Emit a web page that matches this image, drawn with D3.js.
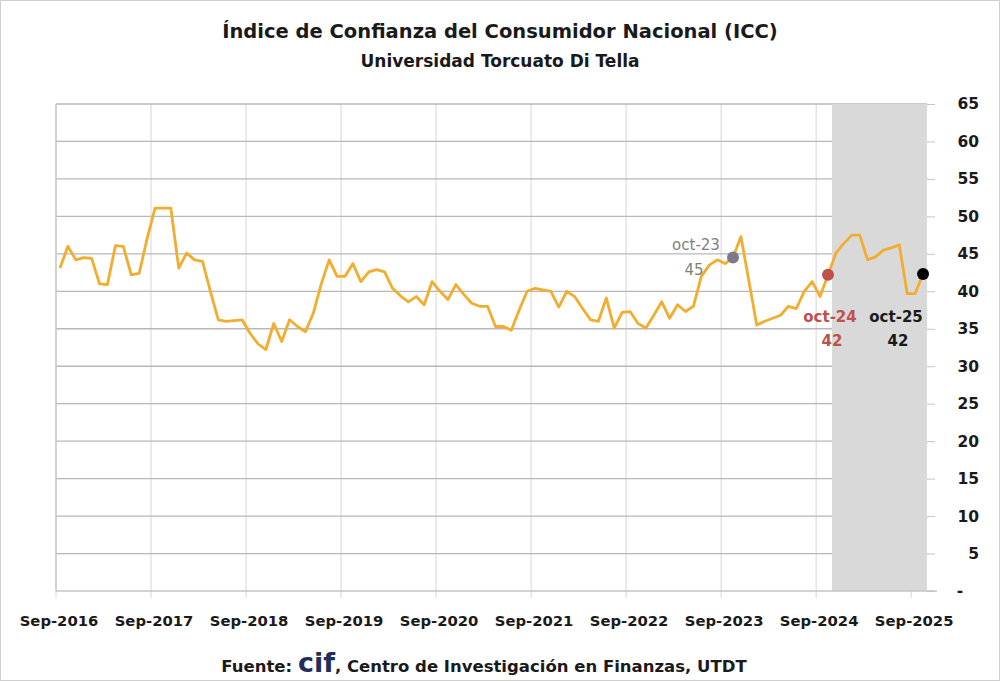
<!DOCTYPE html>
<html><head><meta charset="utf-8">
<script src="https://cdn.jsdelivr.net/npm/d3@7"></script>
<style>
html,body{margin:0;padding:0;background:#fff;}
svg{display:block;}
text{font-family:"DejaVu Sans",sans-serif;}
</style></head>
<body><svg id="chart" width="1000" height="681"></svg>
<script>
// ---- data ----
const startMonth = "2016-09";
const values = [
43.1,46.0,44.2,44.5,44.4,41.0,40.9,46.1,46.0,42.2,42.4,47.0,
51.1,51.1,51.1,43.1,45.1,44.2,44.0,40.0,36.2,36.0,36.1,36.2,
34.4,33.0,32.2,35.7,33.3,36.2,35.3,34.6,37.1,41.0,44.2,42.0,
42.0,43.7,41.3,42.6,42.9,42.6,40.4,39.4,38.6,39.3,38.2,41.3,
40.0,38.9,40.9,39.6,38.4,38.0,38.0,35.3,35.3,34.8,37.5,40.0,
40.4,40.2,40.0,37.9,40.0,39.3,37.7,36.2,36.0,39.1,35.1,37.2,
37.3,35.7,35.1,36.8,38.6,36.4,38.2,37.3,38.0,42.0,43.5,44.2,
43.7,44.5,47.3,41.4,35.5,36.0,36.4,36.8,38.0,37.7,40.0,41.3,
39.3,42.2,45.1,46.4,47.5,47.5,44.2,44.6,45.5,45.8,46.2,39.7,
39.7,42.3];
const xTickLabels = ["Sep-2016","Sep-2017","Sep-2018","Sep-2019","Sep-2020","Sep-2021","Sep-2022","Sep-2023","Sep-2024","Sep-2025"];
const xTickIndex = [0,12,24,36,48,60,72,84,96,108];
const yTicks = [0,5,10,15,20,25,30,35,40,45,50,55,60,65];
const shadeStartIndex = 98;   // Nov-2024 onward
const markers = [
  {idx:85, label:"oct-23", text:"45", color:"#7f7f7f", dot:"#7b7b8c", bold:false},
  {idx:97, label:"oct-24", text:"42", color:"#c0504d", dot:"#c0504d", bold:true},
  {idx:109, label:"oct-25", text:"42", color:"#1a1a1a", dot:"#000000", bold:true}
];
const title = "Índice de Confianza del Consumidor Nacional (ICC)";
const subtitle = "Universidad Torcuato Di Tella";

// ---- layout ----
const svg = d3.select("#chart");
const L = 56, R = 927, T = 104, B = 591;
const x = d3.scaleLinear().domain([0, 110]).range([L, R]);
const y = d3.scaleLinear().domain([0, 65]).range([B, T]);
const px = i => x(i + 0.5);  // monthly points at mid-month

svg.append("rect").attr("x",0.5).attr("y",0.5).attr("width",999).attr("height",680)
  .attr("fill","#fff").attr("stroke","#cfcfcf");

// vertical gridlines
svg.append("g").selectAll("line").data(xTickIndex).join("line")
  .attr("x1",d=>x(d)).attr("x2",d=>x(d)).attr("y1",T).attr("y2",B+7)
  .attr("stroke","#d6d6d6").attr("stroke-width",1);

// horizontal gridlines
svg.append("g").selectAll("line").data(yTicks.filter(d=>d>0)).join("line")
  .attr("x1",L).attr("x2",R).attr("y1",d=>y(d)).attr("y2",d=>y(d))
  .attr("stroke","#b8b8b8").attr("stroke-width",1.3);

// shaded period
svg.append("rect").attr("x",x(shadeStartIndex)).attr("y",T)
  .attr("width",x(110)-x(shadeStartIndex)).attr("height",B-T)
  .attr("fill","#d9d9d9");

// axes lines
svg.append("line").attr("x1",L).attr("x2",L).attr("y1",T).attr("y2",B).attr("stroke","#c4c4c4").attr("stroke-width",1.3);
svg.append("line").attr("x1",L).attr("x2",R+10).attr("y1",B).attr("y2",B).attr("stroke","#c4c4c4").attr("stroke-width",1.5);

// right axis ticks + labels
const yAxis = d3.axisRight(y).tickValues(yTicks).tickSize(8).tickFormat(d=> d===0 ? "-" : d);
const ya = svg.append("g").attr("transform",`translate(${R},0)`).call(yAxis);
ya.select(".domain").remove();
ya.selectAll(".tick line").attr("stroke","#c4c4c4");
ya.selectAll(".tick text").attr("x",52).attr("text-anchor","end")
  .style("font-family","DejaVu Sans").style("font-weight","bold").style("font-size","15.5px").attr("fill","#1a1a1a");
ya.selectAll(".tick text").filter(d=>d===0).attr("x",33).attr("text-anchor","middle");

// x labels
svg.append("g").selectAll("text").data(xTickIndex).join("text")
  .attr("x",d=>x(d)+3).attr("y",626).attr("text-anchor","middle")
  .style("font-weight","bold").style("font-size","14.8px").attr("fill","#1a1a1a")
  .text((d,i)=>xTickLabels[i]);

// line
const line = d3.line().x((d,i)=>px(i)).y(d=>y(d));
svg.append("path").datum(values).attr("d",line).attr("fill","none")
  .attr("stroke","#f2ad2e").attr("stroke-width",2.8).attr("stroke-linejoin","round");

// markers
const mg = svg.append("g");
markers.forEach((m,k)=>{
  const cx = px(m.idx), cy = y(values[m.idx]);
  mg.append("circle").attr("cx",cx).attr("cy",cy).attr("r",6).attr("fill",m.dot);
  let lx, ly, tx, ty;
  if(k===0){ lx = cx-37; ly = cy-8; tx = cx-39; ty = cy+17; }
  else { lx = cx+ (k===1? 2 : -27); ly = 322; tx = lx+2; ty = 346; }
  mg.append("text").attr("x",lx).attr("y",ly).attr("text-anchor","middle")
    .style("font-size","15px").style("font-weight",m.bold?"bold":"normal").attr("fill",m.color).text(m.label);
  mg.append("text").attr("x",tx).attr("y",ty).attr("text-anchor","middle")
    .style("font-size","15px").style("font-weight",m.bold?"bold":"normal").attr("fill",m.color).text(m.text);
});

// titles
svg.append("text").attr("x",500).attr("y",38).attr("text-anchor","middle")
  .style("font-weight","bold").style("font-size","19.5px").attr("fill","#1a1a1a").text(title);
svg.append("text").attr("x",500).attr("y",67).attr("text-anchor","middle")
  .style("font-weight","bold").style("font-size","17px").attr("fill","#1a1a1a").text(subtitle);

// footer
const f = svg.append("text").attr("x",484).attr("y",672).attr("text-anchor","middle")
  .style("font-weight","bold").style("font-size","16.5px").attr("fill","#1a1a1a");
f.append("tspan").text("Fuente: ");
f.append("tspan").style("font-size","27px").attr("fill","#1f2f5a").text("cif");
f.append("tspan").text(", Centro de Investigación en Finanzas, UTDT");
</script>
</body></html>
